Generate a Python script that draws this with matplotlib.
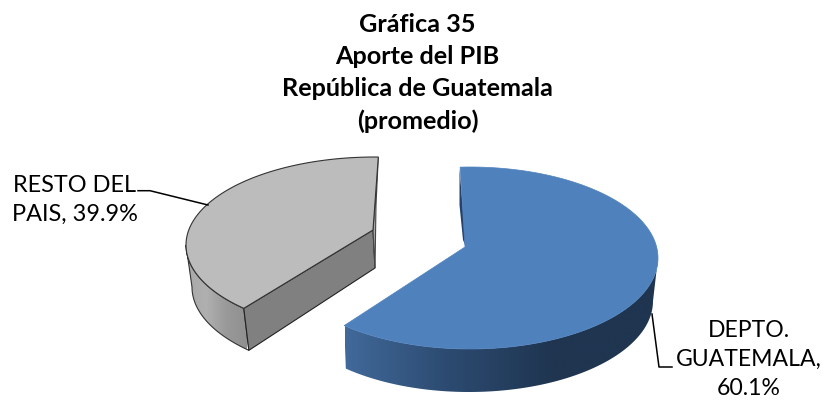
import numpy as np
import matplotlib
matplotlib.use('Agg')
import matplotlib.pyplot as plt
from matplotlib.patches import Polygon
from matplotlib.colors import LinearSegmentedColormap

plt.rcParams['font.family'] = ['Lato', 'DejaVu Sans']

title_lines = ['Gráfica 35', 'Aporte del PIB', 'República de Guatemala', '(promedio)']
categories = ['DEPTO.\nGUATEMALA', 'RESTO DEL\nPAIS']
shares = [60.1, 39.9]
separators = [',\n', ', ']

fig = plt.figure(figsize=(8.23, 4.0), dpi=100)
ax = fig.add_axes([0, 0, 1, 1])


def rim(cx, cy, a, b, t0, t1, n=120):
    t = np.radians(np.linspace(t0, t1, n))
    return np.column_stack([cx + a * np.cos(t), cy - b * np.sin(t)])


def gradient(verts, colors, x0, x1, z):
    # side of the slice, shaded left to right
    cmap = LinearSegmentedColormap.from_list('side', colors)
    patch = Polygon(verts, closed=True, fc='none', ec='none', transform=ax.transData)
    ax.add_patch(patch)
    img = ax.imshow(np.linspace(0, 1, 256).reshape(1, -1), cmap=cmap, aspect='auto',
                    extent=(x0, x1, 400, 0), zorder=z, interpolation='bilinear')
    img.set_clip_path(patch)


# blue slice, runs clockwise from the top
blue_c = (470, 258, 188, 91)
blue_apex = (465, 247)
blue_depth = 43
blue_start = 93
blue_end = blue_start - shares[0] * 3.6 * 1.04
blue_rim = rim(*blue_c, blue_start, blue_end)

low_rim = rim(469, blue_c[1] + blue_depth, 184, blue_c[3], 0, blue_end)
top_rim = rim(*blue_c, 0, blue_end)
gradient(np.vstack([top_rim, low_rim[::-1]]), ['#41699a', '#2c4a70', '#1f3550', '#1f3550'], 345, 658, 2)

ax.add_patch(Polygon([(459.5, 168), (459.5, 205), (463, 240), (466, 247)], closed=True,
                     fc='#24426a', ec='none', zorder=2))
ax.add_patch(Polygon(np.vstack([blue_rim, [blue_apex]]), closed=True,
                     fc='#4f81bd', ec='#4f81bd', lw=0.5, zorder=3))

# grey slice, runs counter-clockwise from the top
grey_c = (375, 245, 189, 88)
grey_apex = (373, 230)
grey_depth = 43
grey_start = 89
grey_end = grey_start + shares[1] * 3.6 * 0.954
grey_rim = rim(*grey_c, grey_start, grey_end)

g_top = rim(*grey_c, 180, grey_end)
g_low = rim(grey_c[0] + 3, grey_c[1] + grey_depth - 1, grey_c[2] - 3, grey_c[3], 180, grey_end)
g_side = np.vstack([g_top, g_low[::-1]])
gradient(g_side, ['#a8a8a8', '#b0b0b0', '#999999', '#909090'], 186, 247, 2)
ax.add_patch(Polygon(g_side, closed=True, fc='none', ec='#333333', lw=0.8, zorder=3))

corner = g_top[-1]
corner_low = g_low[-1]
ax.add_patch(Polygon([corner, grey_apex, (375, 268), corner_low], closed=True,
                     fc='#808080', ec='#222222', lw=0.8, zorder=3))
ax.add_patch(Polygon([grey_rim[0], (376, 205), (375, 268), grey_apex], closed=True,
                     fc='#a6a6a6', ec='#444444', lw=0.8, zorder=3))
ax.add_patch(Polygon(np.vstack([grey_rim, [grey_apex]]), closed=True,
                     fc='#bcbcbc', ec='#333333', lw=0.8, zorder=4))

# leader lines
ax.plot([138, 150, 208], [190.7, 190.7, 205], color='black', lw=1.1, zorder=5)
ax.plot([652, 659, 672], [314, 367, 367], color='black', lw=1.1, zorder=1)

# labels
for i, line in enumerate(title_lines):
    ax.text(417.5, 25 + i * 32, line, ha='center', va='center', fontsize=18.2, fontweight='bold')

ax.text(75, 199.5, f'{categories[1]}{separators[1]}{shares[1]}%', ha='center', va='center',
        fontsize=16.9, linespacing=1.46)
ax.text(749, 359.5, f'{categories[0]}{separators[0]}{shares[0]}%', ha='center', va='center',
        fontsize=16.6, linespacing=1.46)

ax.set_xlim(0, 823)
ax.set_ylim(400, 0)
ax.axis('off')
fig.savefig('out.png', dpi=100)
